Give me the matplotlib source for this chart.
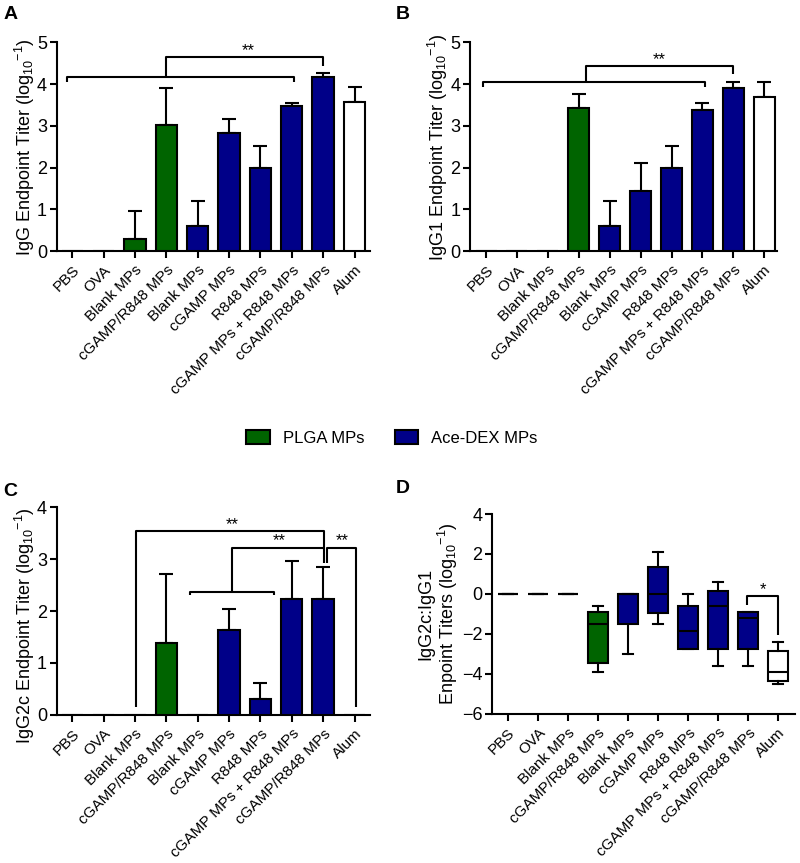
import numpy as np
import matplotlib.pyplot as plt
from matplotlib.patches import Patch

plt.rcParams['font.family'] = 'Liberation Sans'
plt.rcParams['mathtext.fontset'] = 'custom'
plt.rcParams['mathtext.rm'] = 'Liberation Sans'
plt.rcParams['mathtext.default'] = 'regular'

groups = ['PBS', 'OVA', 'Blank MPs', 'cGAMP/R848 MPs', 'Blank MPs', 'cGAMP MPs',
          'R848 MPs', 'cGAMP MPs + R848 MPs', 'cGAMP/R848 MPs', 'Alum']
# 0 = no particle, 1 = PLGA MPs, 2 = Ace-DEX MPs
carrier = [0, 0, 1, 1, 2, 2, 2, 2, 2, 0]

# A - total IgG (mean, upper error)
igg_mean = [0, 0, 0.30, 3.02, 0.60, 2.84, 2.00, 3.47, 4.17, 3.56]
igg_err = [0, 0, 0.67, 0.88, 0.60, 0.33, 0.52, 0.08, 0.10, 0.36]

# B - IgG1
igg1_mean = [0, 0, 0, 3.43, 0.60, 1.45, 1.98, 3.37, 3.91, 3.68]
igg1_err = [0, 0, 0, 0.33, 0.60, 0.67, 0.53, 0.18, 0.13, 0.36]

# C - IgG2c
igg2c_mean = [0, 0, 0, 1.39, 0, 1.63, 0.30, 2.23, 2.23, 0]
igg2c_err = [0, 0, 0, 1.33, 0, 0.40, 0.31, 0.73, 0.61, 0]

# D - IgG2c:IgG1 ratio box plots
ratio_lo = [0, 0, 0, -3.92, -3.02, -1.50, -2.73, -3.60, -3.60, -4.49]
ratio_q1 = [0, 0, 0, -3.45, -1.52, -0.93, -2.73, -2.74, -2.74, -4.36]
ratio_med = [0, 0, 0, -1.50, 0, 0, -1.83, -0.60, -1.22, -3.89]
ratio_q3 = [0, 0, 0, -0.92, 0, 1.35, -0.60, 0.15, -0.92, -2.86]
ratio_hi = [0, 0, 0, -0.60, 0, 2.10, 0, 0.58, -0.92, -2.41]

GREEN = '#006400'
BLUE = '#000088'
colour = {0: 'white', 1: GREEN, 2: BLUE}
XFS = 11     # category labels
YFS = 13     # y tick labels and axis titles
LW = 1.5


def style(ax, ylim, xlim, ylabel, pad=0):
    for s in ['top', 'right']:
        ax.spines[s].set_visible(False)
    for s in ['left', 'bottom']:
        ax.spines[s].set_linewidth(LW)
    ax.set_xlim(*xlim)
    ax.set_ylim(*ylim)
    ax.set_xticks(range(len(groups)))
    ax.set_xticklabels(groups, rotation=45, ha='right', rotation_mode='anchor', fontsize=XFS)
    ax.tick_params(width=LW, length=5)
    ax.tick_params(axis='y', labelsize=YFS, pad=2)
    ax.set_ylabel(ylabel, fontsize=YFS, labelpad=pad, linespacing=1.1)


def bar_panel(ax, vals, errs, ylim, xlim, ylabel):
    x = np.arange(len(groups))
    vals = np.array(vals)
    errs = np.array(errs)
    cols = [colour[c] for c in carrier]
    ax.bar(x, vals, width=0.68, color=cols, edgecolor='black', linewidth=LW, zorder=3)
    m = errs > 0
    ax.errorbar(x[m], vals[m], yerr=[np.zeros(m.sum()), errs[m]], fmt='none',
                ecolor='black', elinewidth=LW, capsize=5, capthick=LW, zorder=2)
    style(ax, ylim, xlim, ylabel)
    ax.set_yticks(range(int(ylim[1]) + 1))


def line(ax, xs, ys):
    ax.plot(xs, ys, color='black', lw=LW, solid_capstyle='butt', clip_on=False)


fig = plt.figure(figsize=(8, 8.63), dpi=100)

# A
axA = fig.add_axes([0.071, 0.709, 0.391, 0.242])
bar_panel(axA, igg_mean, igg_err, (0, 5), (-0.49, 9.48),
          'IgG Endpoint Titer (log$_{10}$$^{-1}$)')
line(axA, [-0.16, -0.16, 7.08, 7.08], [4.06, 4.18, 4.18, 4.06])
line(axA, [3.0, 3.0, 8.0, 8.0], [4.18, 4.64, 4.64, 4.44])
axA.text(5.6, 4.62, '**', ha='center', va='bottom', fontsize=12)

# B
axB = fig.add_axes([0.5875, 0.709, 0.384, 0.242])
bar_panel(axB, igg1_mean, igg1_err, (0, 5), (-0.52, 9.42),
          'IgG1 Endpoint Titer (log$_{10}$$^{-1}$)')
line(axB, [-0.11, -0.11, 7.1, 7.1], [3.93, 4.05, 4.05, 3.93])
line(axB, [3.22, 3.22, 8.0, 8.0], [4.05, 4.43, 4.43, 4.23])
axB.text(5.6, 4.41, '**', ha='center', va='bottom', fontsize=12)

# C
axC = fig.add_axes([0.071, 0.1715, 0.391, 0.241])
bar_panel(axC, igg2c_mean, igg2c_err, (0, 4), (-0.49, 9.48),
          'IgG2c Endpoint Titer (log$_{10}$$^{-1}$)')
axC.yaxis.label.set_y(0.43)
line(axC, [2.03, 2.03, 8.02, 8.02], [0.16, 3.54, 3.54, 2.92])
line(axC, [5.08, 5.08, 8.02], [2.37, 3.22, 3.22])
line(axC, [8.12, 8.12, 9.05, 9.05], [2.92, 3.22, 3.22, 0.16])
line(axC, [3.75, 3.75, 6.42, 6.42], [2.31, 2.37, 2.37, 2.31])
axC.text(5.1, 3.52, '**', ha='center', va='bottom', fontsize=12)
axC.text(6.6, 3.2, '**', ha='center', va='bottom', fontsize=12)
axC.text(8.6, 3.2, '**', ha='center', va='bottom', fontsize=12)

# D
axD = fig.add_axes([0.615, 0.1727, 0.379, 0.2317])
stats = []
for lo, q1, med, q3, hi in zip(ratio_lo, ratio_q1, ratio_med, ratio_q3, ratio_hi):
    stats.append(dict(whislo=lo, q1=q1, med=med, q3=q3, whishi=hi, fliers=[]))
props = dict(color='black', linewidth=LW)
bp = axD.bxp(stats, positions=range(len(groups)), widths=0.69, patch_artist=True,
             showfliers=False, boxprops=dict(edgecolor='black', linewidth=LW),
             medianprops=props, whiskerprops=props, capprops=props)
for patch, c in zip(bp['boxes'], carrier):
    patch.set_facecolor(colour[c])
style(axD, (-6, 4), (-0.53, 9.57), 'IgG2c:IgG1\nEnpoint Titers (log$_{10}$$^{-1}$)', pad=1)
axD.set_yticks(range(-6, 5, 2))
line(axD, [7.98, 7.98, 9.0, 9.0], [-0.55, -0.1, -0.1, -2.05])
axD.text(8.5, -0.15, '*', ha='center', va='bottom', fontsize=12)

# legend
handles = [Patch(facecolor=GREEN, edgecolor='black', linewidth=LW),
           Patch(facecolor=BLUE, edgecolor='black', linewidth=LW)]
fig.legend(handles, ['PLGA MPs', 'Ace-DEX MPs'], loc='center', bbox_to_anchor=(0.49, 0.4925),
           ncol=2, frameon=False, fontsize=12, handlelength=1.4, handleheight=0.9,
           columnspacing=1.8, handletextpad=0.8)

# panel letters
for lab, x, y in [('A', 0.004, 0.993), ('B', 0.495, 0.993), ('C', 0.004, 0.44), ('D', 0.495, 0.444)]:
    fig.text(x, y, lab, fontsize=14, fontweight='bold', va='top')

fig.savefig('out.png', dpi=100)
